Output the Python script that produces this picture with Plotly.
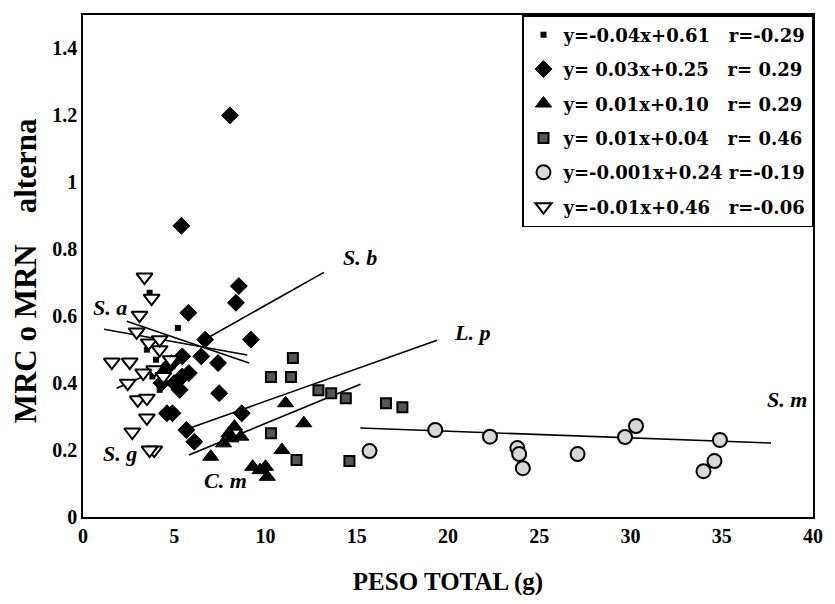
import plotly.graph_objects as go

# ---------------- data ----------------
# S. a  (small filled squares)
sa_x = [3.65, 5.2, 3.5, 4.0, 4.5, 3.8, 4.2, 4.9]
sa_y = [0.67, 0.565, 0.50, 0.47, 0.44, 0.42, 0.38, 0.45]
# S. b  (filled diamonds)
sb_x = [8.05, 5.39, 8.54, 8.38, 5.77, 9.2, 6.69, 6.48, 7.4, 7.46, 5.66, 8.7,
        4.6, 4.9, 6.1, 5.44, 5.44, 4.84, 5.0, 4.5, 5.3, 4.3, 5.8]
sb_y = [1.20, 0.87, 0.69, 0.64, 0.61, 0.53, 0.53, 0.48, 0.46, 0.37, 0.26, 0.31,
        0.31, 0.31, 0.225, 0.48, 0.42, 0.46, 0.40, 0.44, 0.38, 0.40, 0.43]
# C. m  (filled triangles)
cm_x = [12.1, 11.1, 8.3, 8.65, 8.1, 7.7, 7.0, 10.9, 9.3, 10.0, 10.1, 9.7, 8.0]
cm_y = [0.28, 0.34, 0.27, 0.24, 0.235, 0.22, 0.18, 0.20, 0.15, 0.15, 0.12, 0.14, 0.25]
# L. p  (squares)
lp_x = [11.5, 10.3, 11.4, 12.9, 13.6, 14.4, 16.6, 17.5, 10.3, 11.7, 14.6]
lp_y = [0.475, 0.418, 0.418, 0.379, 0.37, 0.355, 0.34, 0.328, 0.25, 0.17, 0.167]
# S. m  (circles)
sm_x = [15.7, 19.3, 22.3, 23.8, 23.9, 24.1, 27.1, 29.7, 30.3, 34.9, 34.6, 34.0]
sm_y = [0.197, 0.26, 0.24, 0.206, 0.188, 0.146, 0.188, 0.239, 0.272, 0.23, 0.167, 0.137]
# S. g  (open down triangles)
sg_x = [3.37, 3.76, 3.1, 2.94, 1.58, 2.56, 2.45, 3.0, 3.5, 3.5, 2.7, 3.9, 3.65,
        3.6, 4.2, 4.8, 3.9, 4.4, 3.3, 4.2]
sg_y = [0.717, 0.654, 0.603, 0.553, 0.463, 0.463, 0.40, 0.35, 0.355, 0.296, 0.254,
        0.20, 0.20, 0.52, 0.50, 0.47, 0.44, 0.42, 0.43, 0.53]

# regression lines (end points)
sa_fit_x, sa_fit_y = [2.4, 9.1], [0.585, 0.46]
sg_fit_x, sg_fit_y = [1.15, 9.0], [0.561, 0.484]
sb_fit_x, sb_fit_y = [6.6, 13.2], [0.528, 0.731]
lp_fit_x, lp_fit_y = [5.55, 19.4], [0.26, 0.528]
cm_fit_x, cm_fit_y = [5.8, 15.2], [0.185, 0.397]
sm_fit_x, sm_fit_y = [15.2, 37.7], [0.266, 0.221]
extra_x, extra_y = [1.85, 3.3], [0.385, 0.42]

NB = "\u00a0"
legend_eq = ["y=-0.04x+0.61", "y=" + NB + "0.03x+0.25", "y=" + NB + "0.01x+0.10",
             "y=" + NB + "0.01x+0.04", "y=-0.001x+0.24", "y=-0.01x+0.46"]
legend_r = ["r=-0.29", "r=" + NB + "0.29", "r=" + NB + "0.29",
            "r=" + NB + "0.46", "r=-0.19", "r=-0.06"]
legend_gap = [3, 3, 3, 3, 1, 3]

species_labels = ["S. a", "S. b", "L. p", "S. m", "S. g", "C. m"]
label_x = [1.5, 15.2, 21.3, 38.6, 2.0, 7.8]
label_y = [0.625, 0.775, 0.55, 0.35, 0.19, 0.11]

x_ticks = [0, 5, 10, 15, 20, 25, 30, 35, 40]
y_ticks = [0, 0.2, 0.4, 0.6, 0.8, 1.0, 1.2, 1.4]
y_tick_text = ["0", "0.2", "0.4", "0.6", "0.8", "1", "1.2", "1.4"]

FONT = "Liberation Serif"

fig = go.Figure()

# fit lines
for fx, fy in [(sa_fit_x, sa_fit_y), (sg_fit_x, sg_fit_y), (sb_fit_x, sb_fit_y),
               (lp_fit_x, lp_fit_y), (cm_fit_x, cm_fit_y), (sm_fit_x, sm_fit_y),
               (extra_x, extra_y)]:
    fig.add_trace(go.Scatter(x=fx, y=fy, mode="lines",
                             line=dict(color="black", width=1.6),
                             showlegend=False, hoverinfo="skip"))

names = [f"<b>{e}{NB * g}{r}</b>" for e, r, g in zip(legend_eq, legend_r, legend_gap)]
series = [
    (sa_x, sa_y, dict(symbol="square", size=6, color="black")),
    (sb_x, sb_y, dict(symbol="diamond", size=13, color="black",
                      line=dict(color="black", width=1))),
    (cm_x, cm_y, dict(symbol="triangle-up", size=14, color="black",
                      line=dict(color="black", width=1))),
    (lp_x, lp_y, dict(symbol="square", size=10, color="#555555",
                      line=dict(color="black", width=2))),
    (sm_x, sm_y, dict(symbol="circle", size=14, color="#d8d8d8",
                      line=dict(color="black", width=2))),
    (sg_x, sg_y, dict(symbol="triangle-down", size=14, color="white",
                      line=dict(color="black", width=2))),
]
for i, ((xs, ys, mk), name) in enumerate(zip(series, names)):
    fig.add_trace(go.Scatter(x=xs, y=ys, mode="markers", marker=mk, name=name,
                             legendgroup=f"g{i}", showlegend=True))

for t, lx, ly in zip(species_labels, label_x, label_y):
    fig.add_annotation(x=lx, y=ly, text=f"<b><i>{t}</i></b>", showarrow=False,
                       font=dict(family=FONT, size=22, color="black"),
                       xanchor="center", yanchor="middle")

# y-axis title as a rotated annotation
fig.add_annotation(xref="paper", yref="paper", x=-0.079, y=0.49,
                   text="<b>MRC" + NB + "o" + NB + "MRN" + NB * 4 + "alterna</b>",
                   textangle=-90, showarrow=False, xanchor="center", yanchor="middle",
                   font=dict(family=FONT, size=31, color="black", weight="bold"))

fig.update_layout(
    width=835, height=604,
    margin=dict(l=83, r=17, t=15, b=87),
    paper_bgcolor="white", plot_bgcolor="white",
    font=dict(family=FONT, color="black"),
    legend=dict(x=1, y=1, xanchor="right", yanchor="top",
                bordercolor="black", borderwidth=1.5, bgcolor="white",
                font=dict(family="DejaVu Serif", size=18, color="black", weight="bold"),
                tracegroupgap=8, itemwidth=30),
)
fig.update_xaxes(range=[0, 40], tickvals=x_ticks,
                 ticktext=[f"<b>{t}</b>" for t in x_ticks],
                 showgrid=False, zeroline=False,
                 showline=True, linecolor="black", linewidth=1.5, mirror=True,
                 ticks="", tickfont=dict(family=FONT, size=20, color="black", weight="bold"),
                 title=dict(text="<b>PESO TOTAL (g)</b>",
                            font=dict(family=FONT, size=25, color="black", weight="bold"),
                            standoff=27))
fig.update_yaxes(range=[0, 1.5], tickvals=y_ticks,
                 ticktext=[f"<b>{t}</b>" for t in y_tick_text],
                 showgrid=False, zeroline=False,
                 showline=True, linecolor="black", linewidth=1.5, mirror=True,
                 ticks="", tickfont=dict(family=FONT, size=20, color="black", weight="bold"))

fig.write_html("out.html")
